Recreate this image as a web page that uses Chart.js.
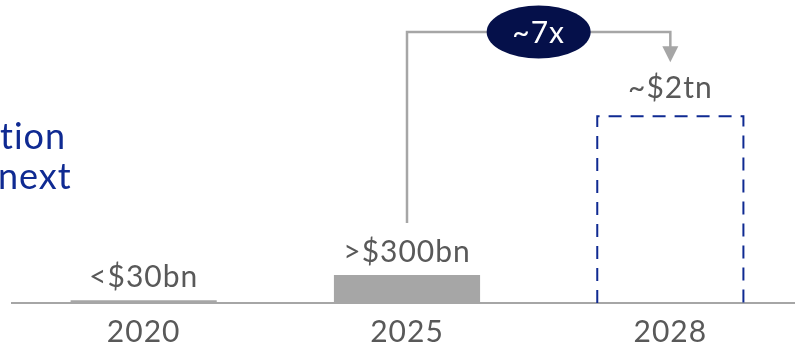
<!DOCTYPE html>
<html>
<head>
<meta charset="utf-8">
<script src="https://cdn.jsdelivr.net/npm/chart.js@4.4.1/dist/chart.umd.min.js"></script>
<style>
  html, body { margin: 0; padding: 0; background: #fff; overflow: hidden; }
  #wrap { width: 810px; height: 361px; position: relative; }
</style>
</head>
<body>
<div id="wrap"><canvas id="market"></canvas></div>
<script>
// market size, $bn
const years = ['2020', '2025', '2028'];
const marketSize = [30, 300, 2000];
const valueLabels = ['<$30bn', '>$300bn', '~$2tn'];
const growthLabel = '~7x';
const sideText = ['tion', 'next'];

const GREY = '#a6a6a6';
const TEXT = '#595959';
const NAVY = '#05104a';
const BLUE = '#0f2a92';
const FONT = 'Lato, "Open Sans", sans-serif';

// slightly looser tracking for all canvas text
const tracking = {
    id: 'tracking',
    beforeDraw(chart) {
        chart.ctx.letterSpacing = '1px';
    }
};

const overlay = {
    id: 'overlay',
    afterDatasetsDraw(chart) {
        const ctx = chart.ctx;
        const bars = chart.getDatasetMeta(0).data;
        const area = chart.chartArea;

        // forecast bar: dashed outline only
        const fc = bars[2];
        const half = fc.width / 2;
        ctx.save();
        ctx.strokeStyle = BLUE;
        ctx.lineWidth = 2;
        ctx.setLineDash([13, 9]);
        ctx.beginPath();
        ctx.moveTo(fc.x - half, fc.base);
        ctx.lineTo(fc.x - half, fc.y);
        ctx.lineTo(fc.x + half, fc.y);
        ctx.lineTo(fc.x + half, fc.base);
        ctx.stroke();
        ctx.restore();

        // value labels above bars
        ctx.save();
        ctx.font = '30px ' + FONT;
        ctx.fillStyle = TEXT;
        ctx.textAlign = 'center';
        ctx.textBaseline = 'middle';
        bars.forEach((b, i) => {
            const off = i === 2 ? 28 : 23;
            ctx.fillText(valueLabels[i], b.x, b.y - off);
        });
        ctx.restore();

        // growth bracket from 2025 to 2028
        const from = bars[1], to = bars[2];
        const topY = area.top + 9;
        const tipY = to.y - 54;
        ctx.save();
        ctx.strokeStyle = GREY;
        ctx.lineWidth = 2.5;
        ctx.beginPath();
        ctx.moveTo(from.x, from.y - 52);
        ctx.lineTo(from.x, topY);
        ctx.lineTo(to.x, topY);
        ctx.lineTo(to.x, tipY - 12);
        ctx.stroke();
        ctx.fillStyle = GREY;
        ctx.beginPath();
        ctx.moveTo(to.x - 8, tipY - 16);
        ctx.lineTo(to.x + 8, tipY - 16);
        ctx.lineTo(to.x, tipY);
        ctx.closePath();
        ctx.fill();

        // multiple badge
        const cx = (from.x + to.x) / 2;
        ctx.fillStyle = NAVY;
        ctx.beginPath();
        ctx.ellipse(cx, topY, 52, 26.5, 0, 0, Math.PI * 2);
        ctx.fill();
        ctx.fillStyle = '#ffffff';
        ctx.font = '30px ' + FONT;
        ctx.textAlign = 'center';
        ctx.textBaseline = 'middle';
        ctx.fillText(growthLabel, cx, topY + 1);
        ctx.restore();

        // tail of the headline text on the left
        ctx.save();
        ctx.fillStyle = BLUE;
        ctx.font = '36px ' + FONT;
        ctx.textAlign = 'left';
        ctx.textBaseline = 'alphabetic';
        ctx.fillText(sideText[0], 0, 149);
        ctx.fillText(sideText[1], -2, 189);
        ctx.restore();
    }
};

new Chart(document.getElementById('market'), {
    type: 'bar',
    data: {
        labels: years,
        datasets: [{
            data: marketSize,
            backgroundColor: [GREY, GREY, 'rgba(0,0,0,0)'],
            borderWidth: 0,
            categoryPercentage: 1,
            barPercentage: 0.555
        }]
    },
    options: {
        responsive: true,
        maintainAspectRatio: false,
        animation: false,
        layout: { padding: { top: 23, left: 12, right: 8, bottom: 0 } },
        plugins: { legend: { display: false }, tooltip: { enabled: false } },
        scales: {
            x: {
                grid: { display: false, drawTicks: false },
                border: { display: true, color: GREY, width: 2 },
                ticks: { color: TEXT, font: { family: FONT, size: 30 }, padding: 11 }
            },
            y: { display: false, min: 0, max: 3000 }
        }
    },
    plugins: [tracking, overlay]
});
</script>
</body>
</html>
